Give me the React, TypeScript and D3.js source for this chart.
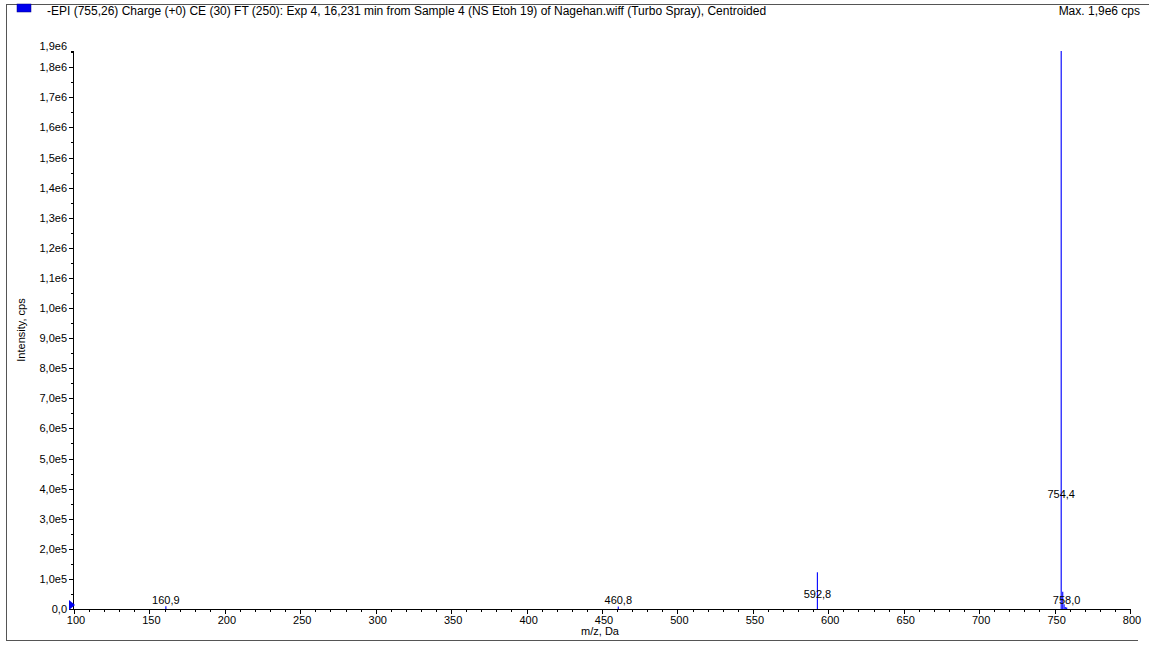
import React from "react";
import * as d3 from "d3";

const TITLE = "-EPI (755,26) Charge (+0) CE (30) FT (250): Exp 4, 16,231 min from Sample 4 (NS Etoh 19) of Nagehan.wiff (Turbo Spray), Centroided";
const MAX_LABEL = "Max. 1,9e6 cps";
const X_LABEL = "m/z, Da";
const Y_LABEL = "Intensity, cps";

const peakMz = [160.9, 460.8, 592.8, 754.4, 755.4, 756.3, 757.1, 758.0];
const peakIntensity = [9000, 8000, 122000, 1854000, 57000, 16000, 7000, 5000];

const labelMz = [160.9, 460.8, 592.8, 754.4, 758.0];
const labelText = ["160,9", "460,8", "592,8", "754,4", "758,0"];
const labelIntensity = [7000, 5000, 27000, 360000, 6000];

const xDomain = [100, 800];
const yDomain = [0, 1854000];
const xMajorTicks = [100, 150, 200, 250, 300, 350, 400, 450, 500, 550, 600, 650, 700, 750, 800];
const yMajorTicks = [0, 1e5, 2e5, 3e5, 4e5, 5e5, 6e5, 7e5, 8e5, 9e5, 1e6, 1.1e6, 1.2e6, 1.3e6, 1.4e6, 1.5e6, 1.6e6, 1.7e6, 1.8e6];
const yTickLabels = ["0,0", "1,0e5", "2,0e5", "3,0e5", "4,0e5", "5,0e5", "6,0e5", "7,0e5", "8,0e5", "9,0e5", "1,0e6", "1,1e6", "1,2e6", "1,3e6", "1,4e6", "1,5e6", "1,6e6", "1,7e6", "1,8e6"];
const yTopLabel = "1,9e6";

const FONT = "'Liberation Sans', Arial, sans-serif";

export default function App() {
  const W = 1149, H = 646;
  const x = d3.scaleLinear().domain(xDomain).range([74, 1130]);
  const y = d3.scaleLinear().domain(yDomain).range([609, 51]);

  const xMinor = d3.range(xDomain[0], xDomain[1] + 0.001, 10).filter(v => v % 50 !== 0);
  const yMinor = d3.range(5e4, yDomain[1], 1e5);
  const x0 = x(100);
  const y0 = y(0);

  return (
    <svg width={W} height={H} style={{ position: "absolute", left: 0, top: 0, background: "#fff" }} fontFamily={FONT}>
      <rect x={0} y={0} width={W} height={H} fill="#fff" />
      {/* frame */}
      <line x1={6} y1={4.5} x2={W} y2={4.5} stroke="#555" strokeWidth={1} />
      <line x1={6.5} y1={4} x2={6.5} y2={640} stroke="#555" strokeWidth={1} />
      <line x1={6} y1={640.5} x2={1138} y2={640.5} stroke="#555" strokeWidth={1} />
      {/* legend box */}
      <rect x={17} y={4} width={14} height={8} fill="#0000ee" stroke="#000080" strokeWidth={0.5} />
      <text x={47} y={15} fontSize={12} fill="#000">{TITLE}</text>
      <text x={1140} y={15} fontSize={12} fill="#000" textAnchor="end">{MAX_LABEL}</text>

      {/* y axis */}
      <line x1={x0 - 0.5} y1={y(yDomain[1])} x2={x0 - 0.5} y2={y0} stroke="#000" />
      {yMajorTicks.map((v, i) => (
        <g key={"ym" + i}>
          <line x1={x0 - 5} x2={x0} y1={Math.round(y(v)) + 0.5} y2={Math.round(y(v)) + 0.5} stroke="#000" />
          <text x={x0 - 7} y={y(v) + 4} fontSize={11} textAnchor="end">{yTickLabels[i]}</text>
        </g>
      ))}
      {yMinor.map((v, i) => (
        <line key={"yn" + i} x1={x0 - 3} x2={x0} y1={Math.round(y(v)) + 0.5} y2={Math.round(y(v)) + 0.5} stroke="#000" />
      ))}
      <line x1={x0 - 3} x2={x0} y1={y(yDomain[1]) + 0.5} y2={y(yDomain[1]) + 0.5} stroke="#000" />
      <text x={x0 - 7} y={y(yDomain[1]) - 1} fontSize={11} textAnchor="end">{yTopLabel}</text>
      <text transform={`translate(25,${(y0 + y(yDomain[1])) / 2}) rotate(-90)`} fontSize={11} textAnchor="middle">{Y_LABEL}</text>

      {/* x axis */}
      <line x1={x0 - 1} x2={x(800)} y1={y0 + 0.5} y2={y0 + 0.5} stroke="#000" />
      {xMajorTicks.map((v, i) => (
        <g key={"xm" + i}>
          <line x1={Math.round(x(v)) + 0.5} x2={Math.round(x(v)) + 0.5} y1={y0} y2={y0 + 5} stroke="#000" />
          <text x={x(v) + 2} y={y0 + 15} fontSize={11} textAnchor="middle">{String(v)}</text>
        </g>
      ))}
      {xMinor.map((v, i) => (
        <line key={"xn" + i} x1={Math.round(x(v)) + 0.5} x2={Math.round(x(v)) + 0.5} y1={y0} y2={y0 + 3} stroke="#000" />
      ))}
      <text x={600} y={y0 + 26} fontSize={11} textAnchor="middle">{X_LABEL}</text>

      {/* peaks */}
      {peakMz.map((m, i) => (
        <line key={"p" + i} x1={x(m)} x2={x(m)} y1={y0} y2={y(peakIntensity[i])} stroke="#1010ff" strokeWidth={1.2} />
      ))}
      {labelMz.map((m, i) => (
        <text key={"l" + i} x={x(m)} y={y(labelIntensity[i]) - 3} fontSize={11} textAnchor="middle">{labelText[i]}</text>
      ))}
      {/* marker at axis origin */}
      <path d={`M${x0 - 5},${y0 - 9} L${x0 + 1},${y0 - 4} L${x0 - 5},${y0 + 1} Z`} fill="#0000ee" />
    </svg>
  );
}
